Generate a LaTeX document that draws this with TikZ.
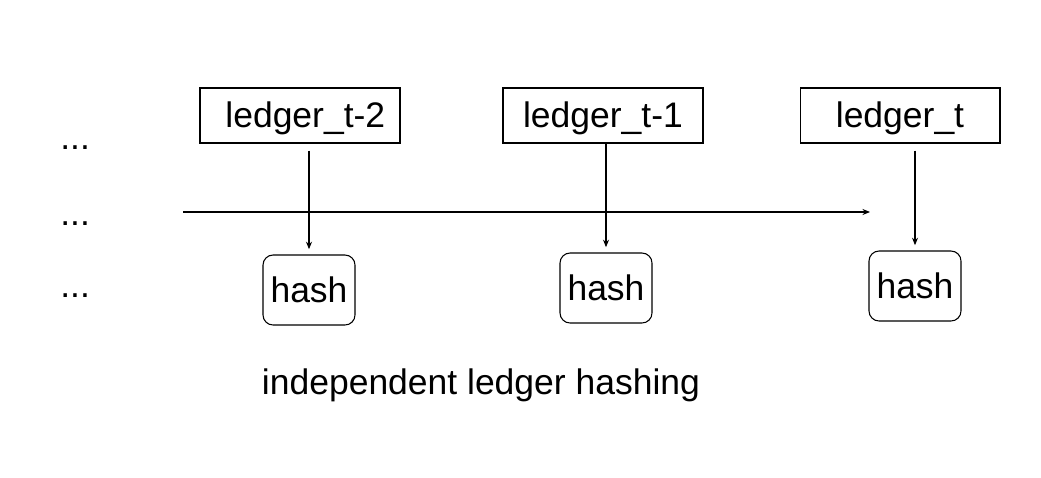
\documentclass[tikz,border=0pt]{standalone}
\usepackage{fontspec}
\setmainfont{Liberation Sans}
\usetikzlibrary{arrows.meta}

\tikzset{
  ledgerbox/.style={draw,minimum width=4cm,minimum height=1.1cm,inner sep=0pt,text height=17pt,text depth=2.8pt},
  hashbox/.style={draw,rounded corners=0.2cm,minimum width=1.84cm,minimum height=1.4cm,inner sep=0pt},
  feed/.style={-{Stealth[length=0.15cm,width=0.12cm]}}
}

\begin{document}
\begin{tikzpicture}[x=0.02cm,y=-0.02cm,line width=0.6pt,font=\fontsize{20.2}{24}\selectfont]
\useasboundingbox (0,0) rectangle (1041,477);

\node[ledgerbox] (l2) at (300,115.5) {\hspace{0.3em}ledger\_t-2};
\node[ledgerbox] (l1) at (603,115.5) {ledger\_t-1};
\node[ledgerbox] (l0) at (900,115.5) {ledger\_t};

\node[hashbox] (h2) at (309,290) {hash};
\node[hashbox] (h1) at (606,288) {hash};
\node[hashbox] (h0) at (915,286) {hash};

\draw[feed,shorten <=4pt,shorten >=3pt] (h2.north |- l2.south) -- (h2.north);
\draw[feed,shorten >=3pt] (h1.north |- l1.south) -- (h1.north);
\draw[feed,shorten <=4pt,shorten >=3pt] (h0.north |- l0.south) -- (h0.north);

% time line
\coordinate (ts) at (183,212);
\coordinate (te) at (870,212);
\draw[feed] (ts) -- (te);

\node[anchor=base west] (d1) at (54,149) {...};
\node[anchor=base west] (d2) at (54,225) {...};
\node[anchor=base west] (d3) at (54,297) {...};

\node[anchor=base] (cap) at (481,394) {independent ledger hashing};
\end{tikzpicture}
\end{document}
